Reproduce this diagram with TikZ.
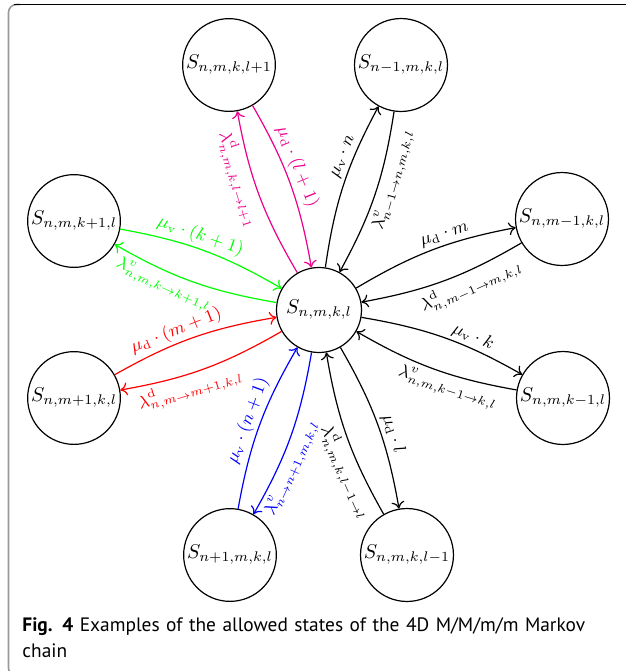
\documentclass[tikz,border=0pt]{standalone}
\usepackage{fontspec}
\newfontfamily\capfont{PT Sans}
\usepackage{amsmath}
\usetikzlibrary{arrows.meta}
\definecolor{linkpink}{RGB}{236,0,140}
\tikzset{
  state/.style={draw, semithick, circle, minimum size=42.5pt, inner sep=1pt},
  trans/.style={-{To[length=3.5pt, width=6.5pt]}, semithick, bend left=10},
  up/.style={sloped, above, inner sep=1.5pt, font=\small},
  dn/.style={sloped, below, inner sep=1.5pt, font=\small},
}

\begin{document}
\begin{tikzpicture}[x=0.5pt, y=0.5pt]
  \useasboundingbox (0,0) rectangle (626,-671);
  \draw[gray!80, line width=0.8pt, rounded corners=4pt] (20,-4.5) -- (8.5,-4.5) -- (8.5,-676) -- (20,-676);
  \draw[line width=0.8pt] (14,-4.5) -- (626,-4.5);

  \node[state] (s0) at (319,-310) {$S_{n,m,k,l}$};
  \node[state] (sLp) at (229,-65) {$S_{n,m,k,l+1}$};
  \node[state] (sNm) at (401,-65) {$S_{n-1,m,k,l}$};
  \node[state] (sMm) at (562,-219) {$S_{n,m-1,k,l}$};
  \node[state] (sKp) at (74,-221) {$S_{n,m,k+1,l}$};
  \node[state] (sMp) at (74,-398) {$S_{n,m+1,k,l}$};
  \node[state] (sKm) at (563,-398) {$S_{n,m,k-1,l}$};
  \node[state] (sNp) at (230,-555) {$S_{n+1,m,k,l}$};
  \node[state] (sLm) at (407,-555) {$S_{n,m,k,l-1}$};

  \draw[trans, linkpink] (sLp) to node[up, pos=0.42] {$\mu_{\mathrm{d}}\cdot(l+1)$} (s0);
  \draw[trans, linkpink] (s0) to node[dn, pos=0.63] {$\lambda^{\mathrm{d}}_{n,m,k,l\to l+1}$} (sLp);
  \draw[trans] (s0) to node[up, pos=0.66] {$\mu_{\mathrm{v}}\cdot n$} (sNm);
  \draw[trans] (sNm) to node[dn, pos=0.38] {$\lambda^{v}_{n-1\to n,m,k,l}$} (s0);
  \draw[trans] (s0) to node[up, pos=0.6] {$\mu_{\mathrm{d}}\cdot m$} (sMm);
  \draw[trans] (sMm) to node[dn, pos=0.36] {$\lambda^{\mathrm{d}}_{n,m-1\to m,k,l}$} (s0);
  \draw[trans, green] (sKp) to node[up, pos=0.45] {$\mu_{\mathrm{v}}\cdot(k+1)$} (s0);
  \draw[trans, green] (s0) to node[dn, pos=0.66] {$\lambda^{v}_{n,m,k\to k+1,l}$} (sKp);
  \draw[trans, red] (sMp) to node[up, pos=0.42] {$\mu_{\mathrm{d}}\cdot(m+1)$} (s0);
  \draw[trans, red] (s0) to node[dn, pos=0.62] {$\lambda^{\mathrm{d}}_{n,m\to m+1,k,l}$} (sMp);
  \draw[trans] (s0) to node[up, pos=0.66] {$\mu_{\mathrm{v}}\cdot k$} (sKm);
  \draw[trans] (sKm) to node[dn, pos=0.38] {$\lambda^{v}_{n,m,k-1\to k,l}$} (s0);
  \draw[trans, blue] (sNp) to node[up, pos=0.5] {$\mu_{\mathrm{v}}\cdot(n+1)$} (s0);
  \draw[trans, blue] (s0) to node[dn, pos=0.68] {$\lambda^{v}_{n\to n+1,m,k,l}$} (sNp);
  \draw[trans] (s0) to node[up, pos=0.58] {$\mu_{\mathrm{d}}\cdot l$} (sLm);
  \draw[trans] (sLm) to node[dn, pos=0.3] {$\lambda^{\mathrm{d}}_{n,m,k,l-1\to l}$} (s0);

  \node[anchor=north west, inner sep=0pt, text width=300pt, align=left,
        font=\capfont\fontsize{9.7}{13}\selectfont] (cap) at (22,-617)
    {\textbf{Fig. 4} Examples of the allowed states of the 4D M/M/m/m Markov\\chain};
\end{tikzpicture}
\end{document}
